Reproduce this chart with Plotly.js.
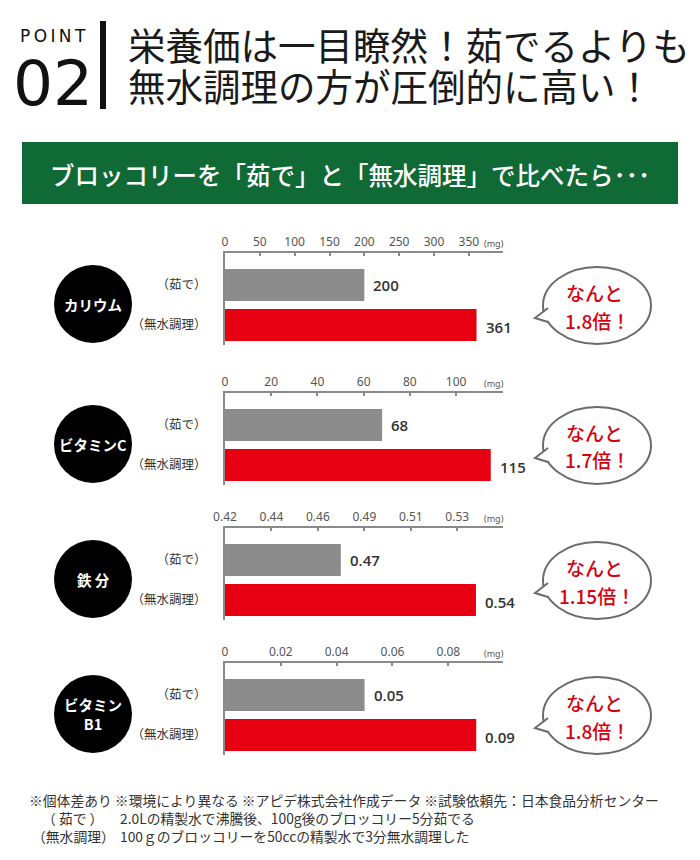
<!DOCTYPE html>
<html>
<head>
<meta charset="utf-8">
<script src="https://cdn.plot.ly/plotly-3.0.1.min.js"></script>
<style>
  body { margin: 0; background: #fff; }
  #graph { width: 700px; height: 860px; }
</style>
</head>
<body>
<div id="graph"></div>
<script>
// chart values
var nutrients = ['カリウム', 'ビタミンC', '鉄 分', 'ビタミン<br>B1'];
var methods = ['（茹で）', '（無水調理）'];
var boiled = [200, 68, 0.47, 0.05];
var waterless = [361, 115, 0.54, 0.09];
var ratios = ['1.8', '1.7', '1.15', '1.8'];
var tickTexts = [
    ['0', '50', '100', '150', '200', '250', '300', '350'],
    ['0', '20', '40', '60', '80', '100'],
    ['0.42', '0.44', '0.46', '0.49', '0.51', '0.53'],
    ['0', '0.02', '0.04', '0.06', '0.08']
];
var unit = '(mg)';

// page is 700x860, margins 0 -> paper coords from pixels
var W = 700, H = 860;
function fx(p) { return p / W; }
function fy(p) { return 1 - p / H; }

var GRAY = '#8c8c8c', RED = '#e60012', GREEN = '#0f6a36';
var JP = 'Noto Sans CJK JP';

// text placed on the page in pixels
function label(x, y, text, font, anchor) {
    return {
        xref: 'paper', yref: 'paper', x: fx(x), y: fy(y),
        xanchor: anchor || 'center', yanchor: 'middle',
        text: text, showarrow: false, font: font
    };
}

// layout positions of each panel (top axis line y, px)
var panelTop = [253, 393, 528, 663];
var axisRange = [[0, 399], [0, 120.3], [0.41, 0.554], [0, 0.0996]];
var tickStep = [50, 20, 0.02406, 0.02];

function tickVals(i) {
    var v = [];
    for (var k = 0; k < tickTexts[i].length; k++) {
        v.push(+(axisRange[i][0] + k * tickStep[i]).toFixed(6));
    }
    return v;
}

var data = [], shapes = [], annotations = [];
var layout = {
    width: W, height: H,
    margin: {l: 0, r: 0, t: 0, b: 0},
    paper_bgcolor: '#fff', plot_bgcolor: 'rgba(0,0,0,0)',
    showlegend: false,
    font: {family: JP, color: '#333'}
};

for (var i = 0; i < 4; i++) {
    var n = i === 0 ? '' : String(i + 1);
    var yTop = panelTop[i];

    data.push({
        type: 'bar', orientation: 'h',
        y: methods,
        x: [boiled[i], waterless[i]],
        width: 0.8,
        marker: {color: [GRAY, RED]},
        xaxis: 'x' + n, yaxis: 'y' + n,
        hoverinfo: 'none'
    });

    layout['xaxis' + n] = {
        domain: [fx(225), fx(503)],
        anchor: 'y' + n,
        side: 'top',
        range: axisRange[i],
        tickmode: 'array',
        tickvals: tickVals(i),
        ticktext: tickTexts[i],
        ticks: 'inside', ticklen: 3, tickwidth: 2, tickcolor: '#8a8a8a',
        showline: true, linecolor: '#8a8a8a', linewidth: 2,
        showgrid: false, zeroline: false,
        tickfont: {family: 'Noto Sans', size: 12, color: '#555'},
        fixedrange: true
    };
    layout['yaxis' + n] = {
        domain: [fy(yTop + 92), fy(yTop)],
        anchor: 'x' + n,
        type: 'category',
        range: [1.5, -0.8],
        showline: true, linecolor: '#8a8a8a', linewidth: 2,
        showgrid: false, zeroline: false, ticks: '',
        ticklabelstandoff: 14,
        tickfont: {family: JP, size: 12.5, color: '#333'},
        fixedrange: true
    };

    // values next to bars
    [boiled[i], waterless[i]].forEach(function (v, j) {
        annotations.push({
            xref: 'x' + n, yref: 'y' + n, x: v, y: methods[j],
            text: String(v), showarrow: false,
            xanchor: 'left', yanchor: 'middle', xshift: 7, yshift: j === 1 ? -2 : 0,
            font: {family: 'Open Sans', size: 15, color: '#333', weight: 600}
        });
    });

    // unit label
    annotations.push(label(494, yTop - 10, unit,
        {family: 'Noto Sans', size: 9, color: '#555'}));

    // black circle with nutrient name
    var cy = yTop + 51;
    shapes.push({
        type: 'circle', xref: 'paper', yref: 'paper',
        x0: fx(54), x1: fx(132), y0: fy(cy + 39), y1: fy(cy - 39),
        fillcolor: '#000', line: {width: 0}
    });
    annotations.push(label(93, cy, nutrients[i],
        {family: JP, size: 14.5, color: '#fff', weight: 'bold'}));

    // speech bubble
    var by = yTop + 52;
    shapes.push({
        type: 'circle', xref: 'paper', yref: 'paper',
        x0: fx(543), x1: fx(651), y0: fy(by + 39), y1: fy(by - 38),
        fillcolor: '#fff', line: {color: '#6b6b6b', width: 2}
    });
    shapes.push({
        type: 'path', xref: 'paper', yref: 'paper',
        path: 'M' + fx(548) + ',' + fy(by + 3) + ' L' + fx(535) + ',' + fy(by + 13) +
              ' L' + fx(548) + ',' + fy(by + 17),
        fillcolor: '#fff', line: {color: '#6b6b6b', width: 2}
    });
    annotations.push(label(594, by - 13, 'なんと',
        {family: JP, size: 19, color: '#d7000f', weight: 500}));
    annotations.push(label(597, by + 15, ratios[i] + '倍！',
        {family: JP, size: 19, color: '#d7000f', weight: 500}));
}

// header
shapes.push({
    type: 'rect', xref: 'paper', yref: 'paper',
    x0: fx(100), x1: fx(106), y0: fy(109), y1: fy(21),
    fillcolor: '#111', line: {width: 0}
});
annotations.push(label(53, 36, 'P\u2009O\u2009I\u2009N\u2009T', {family: 'DejaVu Sans', size: 17, color: '#111'}));
annotations.push(label(53, 83, '02',
    {family: 'DejaVu Sans', stretch: 'condensed', size: 63, color: '#111'}));
annotations.push(label(126, 44, '栄養価は一目瞭然！茹でるよりも',
    {family: JP, size: 37.5, color: '#1a1a1a'}, 'left'));
annotations.push(label(126, 84, '無水調理の方が圧倒的に高い！',
    {family: JP, size: 37.5, color: '#1a1a1a'}, 'left'));

// green banner
shapes.push({
    type: 'rect', xref: 'paper', yref: 'paper',
    x0: fx(22), x1: fx(678), y0: fy(204), y1: fy(142),
    fillcolor: GREEN, line: {width: 0}
});
annotations.push(label(350, 174, 'ブロッコリーを「茹で」と「無水調理」で比べたら･･･',
    {family: JP, size: 24.5, color: '#fff', weight: 500}));

// footnotes
var notes = [
    [27, 800, '※個体差あり ※環境により異なる ※アピデ株式会社作成データ ※試験依頼先：日本食品分析センター'],
    [40, 818, '（ 茹で ）'],
    [118, 818, '2.0Lの精製水で沸騰後、100g後のブロッコリー5分茹でる'],
    [30, 836, '（無水調理）'],
    [118, 836, '100ｇのブロッコリーを50ccの精製水で3分無水調理した']
];
notes.forEach(function (t) {
    annotations.push(label(t[0], t[1], t[2], {family: JP, size: 13.8, color: '#333'}, 'left'));
});

layout.shapes = shapes;
layout.annotations = annotations;

Plotly.newPlot('graph', data, layout, {staticPlot: true});
</script>
</body>
</html>
